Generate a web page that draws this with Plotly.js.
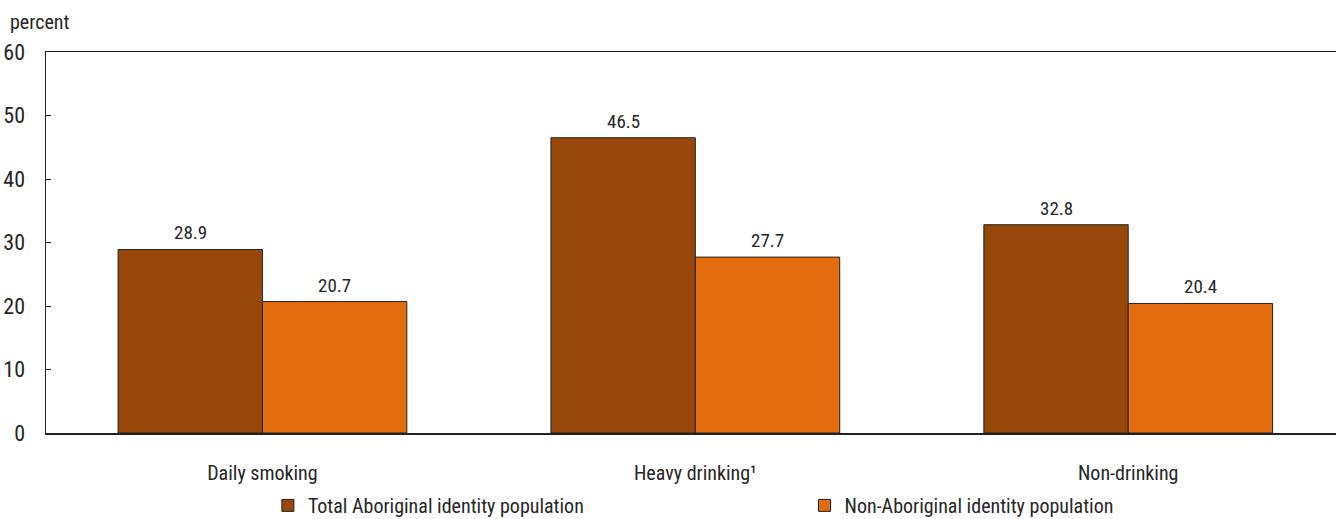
<!DOCTYPE html>
<html>
<head>
<meta charset="utf-8">
<script src="https://cdn.plot.ly/plotly-3.0.1.min.js"></script>
<style>
  html, body { margin: 0; padding: 0; background: #fff; }
  #chart { width: 1336px; height: 519px; }
</style>
</head>
<body>
<div id="chart"></div>
<script>
// Health behaviours, by Aboriginal identity (percent)
const categories = ['Daily smoking', 'Heavy drinking\u00b9', 'Non-drinking'];
const aboriginalValues = [28.9, 46.5, 32.8];
const nonAboriginalValues = [20.7, 27.7, 20.4];
const seriesNames = ['Total Aboriginal identity population', 'Non-Aboriginal identity population'];
const yTicks = [0, 10, 20, 30, 40, 50, 60];

const FONT = '"Roboto Condensed", "Liberation Sans Narrow", "Arial Narrow", sans-serif';
const TEXT = '#262626';
const BAR_GAP = 0.333;

function barTrace(name, values, color, legendId) {
  return {
    type: 'bar',
    name: name,
    x: categories.map((_, i) => i),
    y: values,
    legend: legendId,
    marker: { color: color, line: { color: '#222222', width: 1 } },
    hoverinfo: 'y+name'
  };
}

const data = [
  barTrace(seriesNames[0], aboriginalValues, '#98470A', 'legend'),
  barTrace(seriesNames[1], nonAboriginalValues, '#E36C0E', 'legend2')
];

// value labels above each bar, centred on the bar within its group
const halfBar = (1 - BAR_GAP) / 4;
const valueLabels = [];
[aboriginalValues, nonAboriginalValues].forEach((vals, s) => {
  vals.forEach((v, i) => {
    valueLabels.push({
      text: v.toFixed(1),
      xref: 'x', yref: 'y',
      x: i + (s === 0 ? -halfBar : halfBar),
      y: v,
      yanchor: 'bottom',
      yshift: 3,
      showarrow: false,
      font: { family: FONT, size: 19, color: TEXT }
    });
  });
});

const legendFont = { family: FONT, size: 20, color: TEXT };

const layout = {
  width: 1336,
  height: 519,
  margin: { l: 46, r: 0, t: 52, b: 86, autoexpand: false },
  paper_bgcolor: '#ffffff',
  plot_bgcolor: '#ffffff',
  font: { family: FONT, size: 19, color: TEXT },
  barmode: 'group',
  bargap: BAR_GAP,
  bargroupgap: 0,
  showlegend: true,
  legend: {
    orientation: 'h',
    x: 0.172, xanchor: 'left',
    y: -0.19, yanchor: 'middle',
    itemwidth: 30,
    font: legendFont,
    bgcolor: 'rgba(0,0,0,0)'
  },
  legend2: {
    orientation: 'h',
    x: 0.588, xanchor: 'left',
    y: -0.19, yanchor: 'middle',
    itemwidth: 30,
    font: legendFont,
    bgcolor: 'rgba(0,0,0,0)'
  },
  xaxis: {
    tickmode: 'array',
    tickvals: categories.map((_, i) => i),
    ticktext: categories,
    range: [-0.5, 2.48],
    showline: true,
    linecolor: '#222222',
    linewidth: 1.5,
    mirror: true,
    showgrid: false,
    zeroline: false,
    ticks: '',
    ticklabelstandoff: 21,
    tickfont: { family: FONT, size: 20, color: TEXT },
    fixedrange: true
  },
  yaxis: {
    range: [0, 60],
    tickvals: yTicks,
    ticktext: yTicks.map(String),
    showline: true,
    linecolor: '#222222',
    linewidth: 1.5,
    showgrid: false,
    zeroline: false,
    ticks: 'inside',
    ticklen: 5,
    tickcolor: '#222222',
    ticklabelstandoff: 15,
    tickfont: { family: FONT, size: 22, color: TEXT },
    fixedrange: true
  },
  annotations: valueLabels.concat([{
    text: 'percent',
    xref: 'paper', yref: 'paper',
    x: 0, xshift: -38, xanchor: 'left',
    y: 1, yshift: 30, yanchor: 'middle',
    showarrow: false,
    font: { family: FONT, size: 20, color: TEXT }
  }])
};

Plotly.newPlot('chart', data, layout, { displayModeBar: false, staticPlot: true });
</script>
</body>
</html>
